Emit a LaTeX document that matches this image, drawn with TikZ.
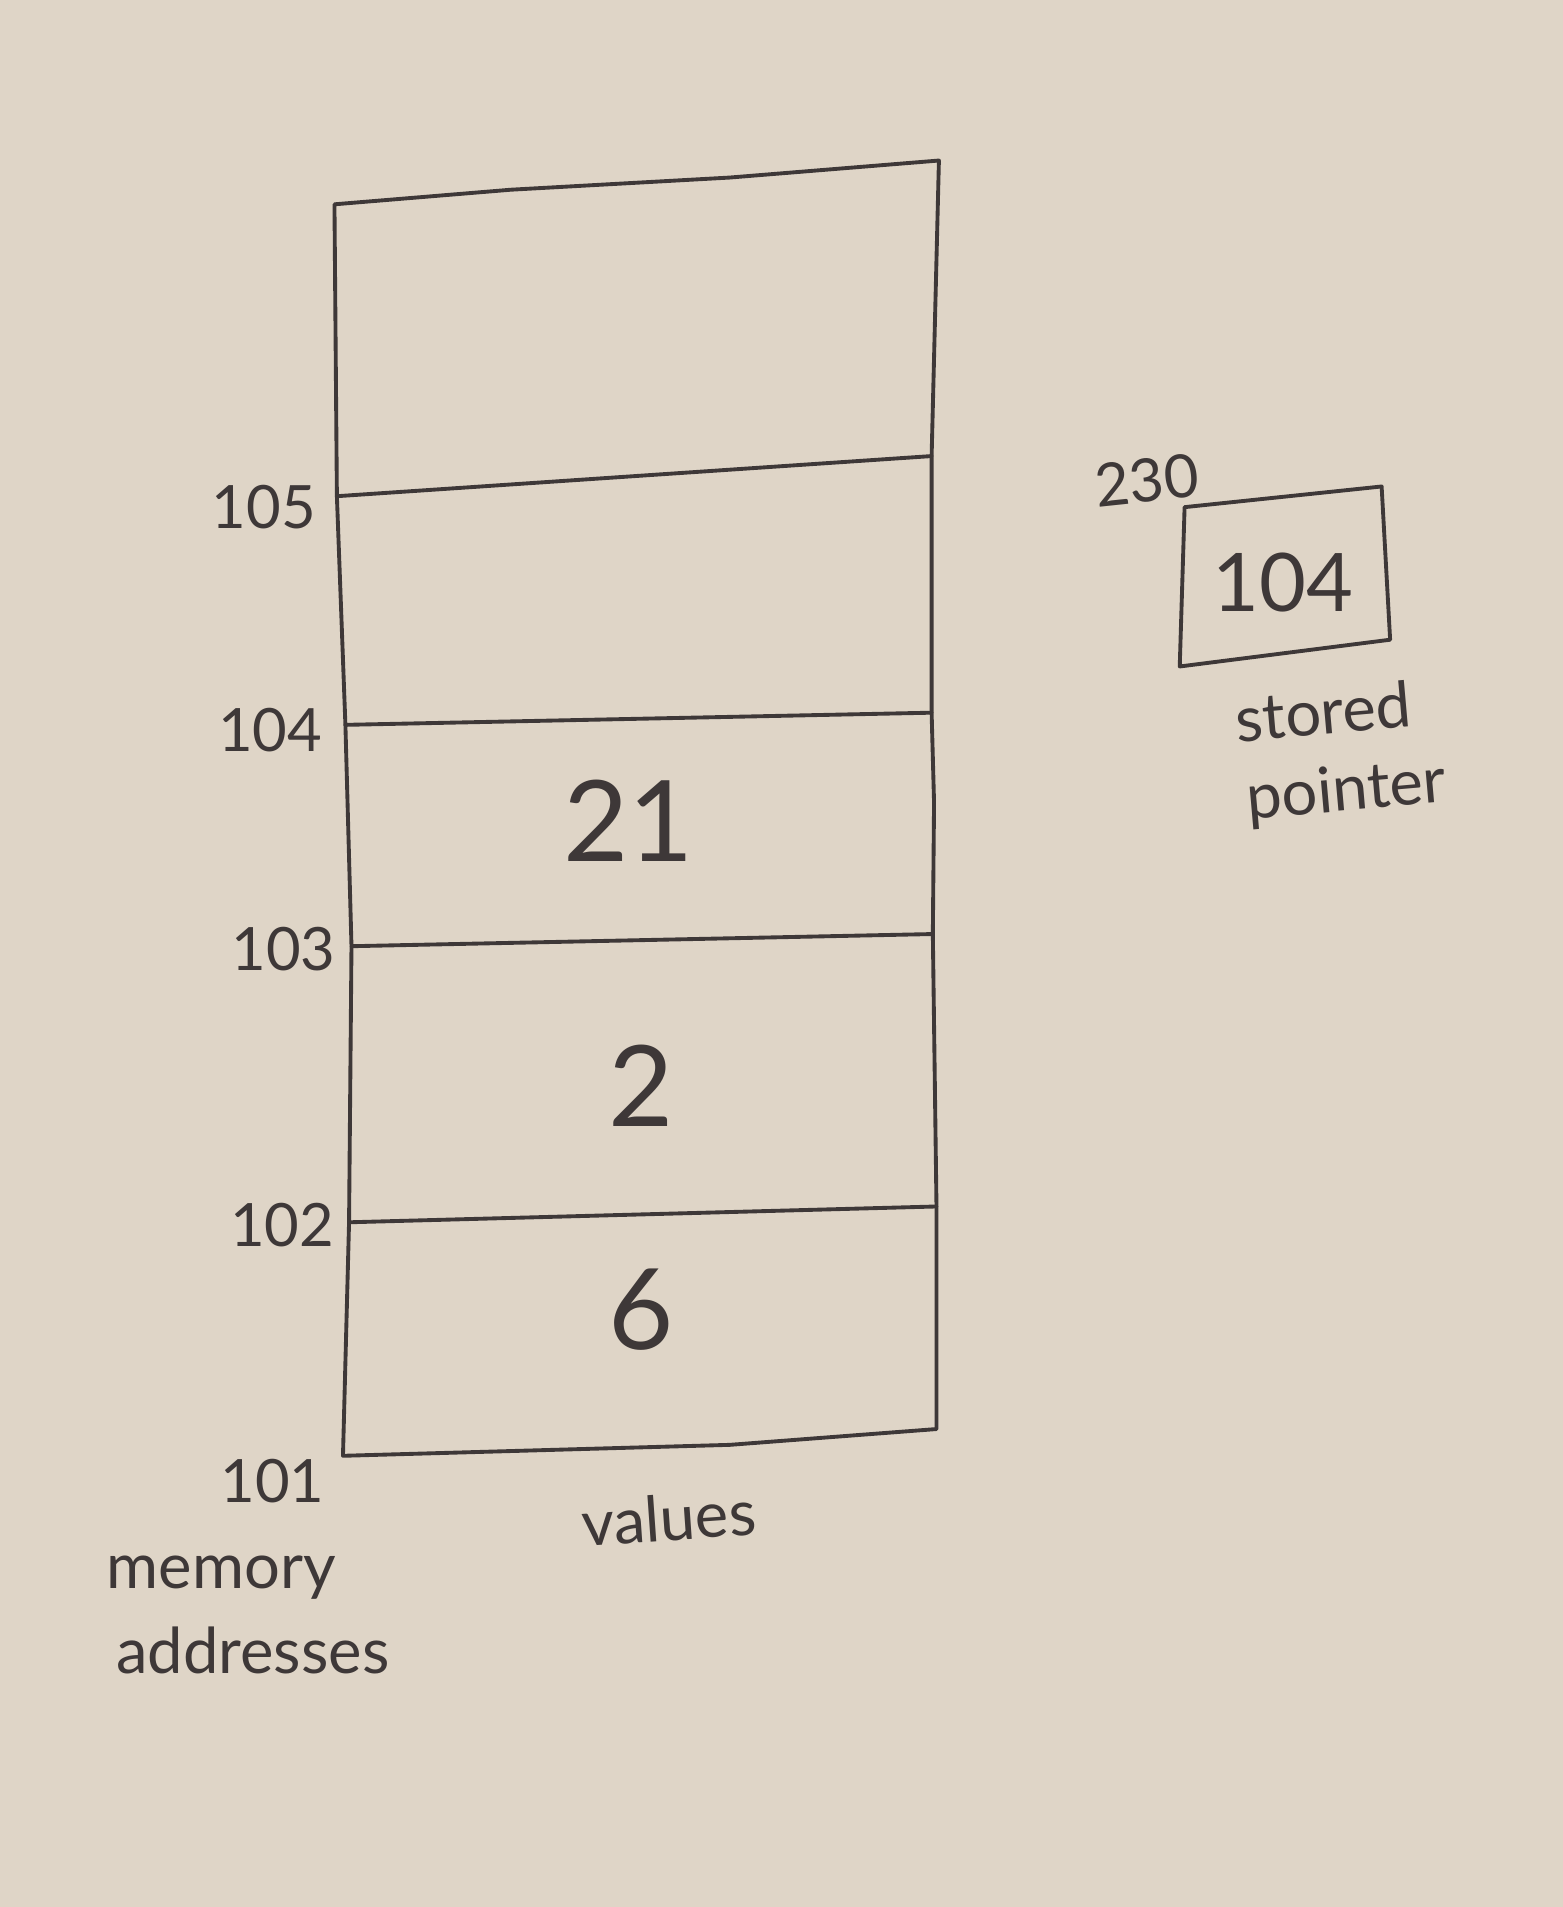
\documentclass[tikz,border=0pt]{standalone}
\usepackage{fontspec}
\setmainfont{Lato}
\definecolor{paper}{RGB}{223,213,199}
\definecolor{ink}{RGB}{62,56,56}
\begin{document}
\begin{tikzpicture}[x=0.012163cm,y=-0.012163cm,
  pen/.style={draw=ink,line width=1.1pt,line join=round,line cap=round},
  addr/.style={text=ink,font=\fontsize{17}{17}\selectfont,inner sep=0pt},
  val/.style={text=ink,font=\fontsize{32}{32}\selectfont,inner sep=0pt},
  lbl/.style={text=ink,font=\fontsize{18}{18}\selectfont,inner sep=0pt}]
\fill[paper] (0,0) rectangle (1285,1568);
\useasboundingbox (0,0) rectangle (1285,1568);
% corners of the memory column
\coordinate (tl) at (275,168);
\coordinate (tr) at (772,132);
\coordinate (bl) at (282,1197);
\coordinate (br) at (770,1175);
% divider end points
\coordinate (l105) at (277,408); \coordinate (r105) at (766,375);
\coordinate (l104) at (284,596); \coordinate (r104) at (766,586);
\coordinate (l103) at (289,778); \coordinate (r103) at (767,768);
\coordinate (l102) at (287,1005); \coordinate (r102) at (770,992);
% outline
\draw[pen] (tl) -- (420,156) -- (600,146) -- (tr) -- (r105) -- (r104) -- (768,660) -- (r103) -- (r102) -- (br) -- (600,1188) -- (bl) -- (l102) -- (l103) -- (l104) -- (l105) -- cycle;
% dividers
\draw[pen] (l105) -- (r105);
\draw[pen] (l104) -- (r104);
\draw[pen] (l103) -- (r103);
\draw[pen] (l102) -- (r102);
% values
\node[val] (v21) at (517,675) {21};
\node[val] (v2) at (527,893) {2};
\node[val] (v6) at (527,1077) {6};
% addresses
\node[addr] (a105) at (217,417) {105};
\node[addr] (a104) at (222,600) {104};
\node[addr] (a103) at (233,780) {103};
\node[addr] (a102) at (232,1007) {102};
\node[addr] (a101) at (224,1218) {101};
\node[lbl] (mem) at (182,1297) {memory};
\node[lbl] (addrs) at (208,1357) {addresses};
\node[lbl,rotate=4] (values) at (550,1248) {values};
% stored pointer box
\coordinate (ptl) at (974,417);
\coordinate (ptr) at (1136,400);
\coordinate (pbr) at (1143,526);
\coordinate (pbl) at (970,548);
\draw[pen] (ptl) -- (ptr) -- (pbr) -- (pbl) -- cycle;
\node[text=ink,font=\fontsize{23}{23}\selectfont,inner sep=0pt] (p104) at (1055,479) {104};
\node[addr,rotate=6] (p230) at (943,395) {230};
\node[lbl,rotate=5] (stored) at (1088,585) {stored};
\node[lbl,rotate=5] (pointer) at (1107,652) {pointer};
\end{tikzpicture}
\end{document}
